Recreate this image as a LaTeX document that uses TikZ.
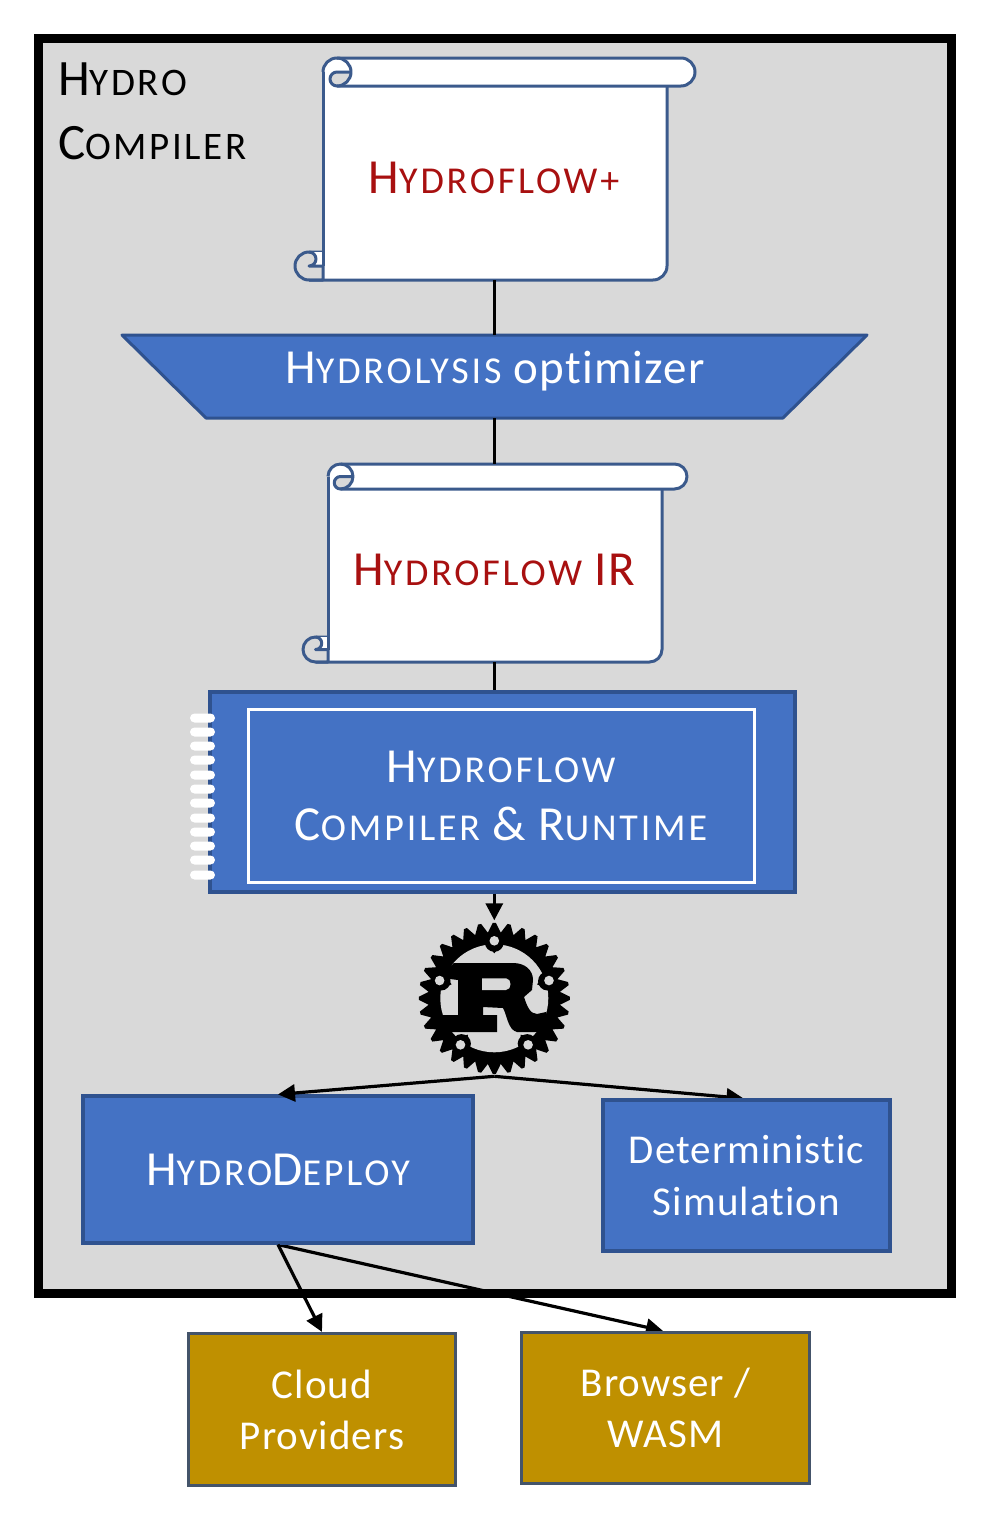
\documentclass[tikz,border=0pt]{standalone}
\usepackage{fontspec}
\setmainfont[LetterSpace=2.6,Ligatures=NoCommon]{Carlito}
\usetikzlibrary{arrows.meta}
\pgfdeclarelayer{framelayer}
\pgfdeclarelayer{under}
\pgfsetlayers{framelayer,under,main}
\definecolor{bluefill}{HTML}{4472C4}
\definecolor{blueline}{HTML}{2F528F}
\definecolor{scrollline}{HTML}{3B5A8C}
\definecolor{goldfill}{HTML}{BF9000}
\definecolor{goldline}{HTML}{44546A}
\definecolor{panel}{HTML}{D9D9D9}
\definecolor{darkred}{HTML}{A81010}
\newcommand\Lc[1]{{\fontsize{49}{58}\selectfont #1}}
\newcommand\Sc[1]{{\fontsize{38}{58}\selectfont\addfontfeatures{LetterSpace=7.5}#1}}
\newcommand\Lk[1]{{\fontsize{51}{64}\selectfont #1}}
\newcommand\Sk[1]{{\fontsize{39}{64}\selectfont\addfontfeatures{LetterSpace=6.5}#1}}
\tikzset{
  bluebox/.style={draw=blueline,fill=bluefill,line width=3.2pt,text=white,align=center,inner sep=0pt,font=\fontsize{41}{52}\selectfont},
  goldbox/.style={draw=goldline,fill=goldfill,line width=3.2pt,text=white,align=center,inner sep=0pt,font=\fontsize{41}{51}\selectfont},
  conn/.style={draw=black,line width=3pt},
  arrowconn/.style={draw=black,line width=3.2pt,-{Triangle[length=17pt,width=17pt]}},
  scrollpen/.style={draw=scrollline,line width=3pt,line join=round},
  anchorbox/.style={inner sep=0pt,outer sep=0pt},
  tick/.style={fill=white,rounded corners=4.5pt}
}
% L R T B r
\newcommand\scrollshape[5]{
  \fill[white] (#1,#3+#5) arc[start angle=180,end angle=270,radius=#5]
     -- (#2+#5,#3) arc[start angle=270,end angle=450,radius=#5] -- (#2,#3+2*#5)
     -- (#2,#4-#5) arc[start angle=0,end angle=90,radius=#5] -- (#1,#4) -- cycle;
  % lower roll
  \fill[panel,scrollpen] (#1-#5,#4-2*#5) arc[start angle=270,end angle=90,radius=#5] -- (#1,#4) -- (#1,#4-2*#5) -- cycle;
  \fill[white] (#1-#5,#4-2*#5) arc[start angle=270,end angle=450,radius=#5/2] -- (#1,#4-#5) -- (#1,#4-2*#5) -- cycle;
  \draw[scrollpen] (#1-#5,#4-2*#5) arc[start angle=270,end angle=450,radius=#5/2] -- (#1,#4-#5);
  % upper roll curl
  \fill[panel] (#1+#5,#3+#5) -- (#1+2*#5,#3+#5) arc[start angle=0,end angle=90,radius=#5]
     arc[start angle=90,end angle=270,radius=#5/2] -- cycle;
  % outline
  \draw[scrollpen] (#1,#3+#5) arc[start angle=180,end angle=270,radius=#5] -- (#2+#5,#3)
     arc[start angle=270,end angle=450,radius=#5] -- (#1+#5,#3+2*#5)
     arc[start angle=90,end angle=270,radius=#5/2] -- (#1+2*#5,#3+#5);
  \draw[scrollpen] (#1+#5,#3) arc[start angle=270,end angle=450,radius=#5];
  \draw[scrollpen] (#2,#3+2*#5) -- (#2,#4-#5) arc[start angle=0,end angle=90,radius=#5] -- (#1-#5,#4);
  \draw[scrollpen] (#1,#3+#5) -- (#1,#4-#5);
}
\begin{document}
\begin{tikzpicture}[x=1pt,y=1pt,yscale=-1]
\useasboundingbox (0,0) rectangle (992,1531);
\begin{pgfonlayer}{framelayer}
  \fill[white] (0,0) rectangle (992,1531);
  \node[anchorbox,draw=black,fill=panel,line width=9pt,minimum width=913pt,minimum height=1255pt] (frame) at (495,666) {};
\end{pgfonlayer}

% Title
\node[anchor=base west,inner sep=0pt,text=black] (titleA) at (58,95) {\Lk{H}\Sk{YDRO}};
\node[anchor=base west,inner sep=0pt,text=black] (titleB) at (58,159) {\Lk{C}\Sk{OMPILER}};

% Scroll one
\scrollshape{323}{667}{58}{280}{14}
\node[anchorbox,minimum width=344pt,minimum height=222pt] (plus) at (494.5,169) {};
\node[anchor=base,inner sep=0pt,text=darkred] (plustext) at (494,193) {\Lc{H}\Sc{YDROFLOW+}};

% Optimizer
\fill[bluefill,draw=blueline,line width=3pt,line join=round] (122,335) -- (867,335) -- (783,418) -- (206,418) -- cycle;
\node[anchorbox,minimum width=745pt,minimum height=83pt] (opt) at (494.5,376.5) {};
\node[anchor=base,inner sep=0pt,text=white] (opttext) at (495,383) {\Lc{H}\Sc{YDROLYSIS}{\fontsize{47}{58}\selectfont\ optimizer}};

% Scroll two
\scrollshape{328}{662}{464}{662}{12.5}
\node[anchorbox,minimum width=334pt,minimum height=198pt] (ir) at (494.5,563) {};
\node[anchor=base,inner sep=0pt,text=darkred] (irtext) at (494,585) {\Lc{H}\Sc{YDROFLOW}\Lc{\ IR}};

% Compiler and runtime
\node[bluebox,minimum width=585pt,minimum height=200pt] (runtime) at (502.5,792) {};
\node[draw=white,line width=3pt,text=white,align=center,inner sep=0pt,minimum width=506pt,minimum height=173pt,font=\fontsize{36}{58}\selectfont] (runinner) at (501,795.5) {\Lc{H}\Sc{YDROFLOW}\\\Lc{C}\Sc{OMPILER}\Lc{\ \&\ }\Lc{R}\Sc{UNTIME}};
\foreach \ty in {718,732,746,760,775,789,803,818,832,846,860,875}
  \fill[tick] (190,\ty-4.5) rectangle (215,\ty+4.5);

% Rust logo
\node[anchorbox,circle,minimum size=156pt] (rust) at (494.3,998.3) {};
\begin{scope}[shift={(494.3,998.3)}]
  \fill[black] (-95.6:66)
    \foreach \a in {-90,-78.75,...,258.75} { -- (\a-5.6:66) -- (\a-1.2:75.5) -- (\a+1.2:75.5) -- (\a+5.6:66) } -- cycle;
  \fill[panel] (0,0) circle[radius=54];
  \foreach \a in {-90,-18,54,126,198} {
    \fill[black] (\a:56) circle[radius=9.5];
    \fill[black] (\a-9:56) -- (\a:45) -- (\a+9:56) -- cycle;
    \fill[panel] (\a:57.5) circle[radius=4.8];
  }
\end{scope}
\fill[black] (454,963) -- (513,963) .. controls (525,963) and (533,970) .. (533,980)
  -- (532,990) -- (524,997) .. controls (527,1006) and (530,1014) .. (537,1014) -- (546,1012)
  -- (549,1025) -- (538,1032) -- (517,1032) .. controls (508,1030) and (507,1015) .. (503,1008) -- (483,1007)
  -- (483,1015) -- (497,1015) -- (497,1032) -- (450,1032) -- (440,1025) -- (440,1015)
  -- (458,1015) -- (458,980) -- (450,979) -- (440,975) -- cycle;
\fill[panel] (482,978.3) -- (506,978.3) .. controls (512,978.3) and (512,990) .. (506,990) -- (482,990) -- cycle;

% Lower boxes
\node[bluebox,minimum width=390pt,minimum height=147pt] (deploy) at (278,1169.5) {\Lc{H}\Sc{YDRO}\Lc{D}\Sc{EPLOY}};
\node[bluebox,minimum width=287pt,minimum height=151pt] (sim) at (746.5,1175.5) {Deterministic\\Simulation};
\node[goldbox,minimum width=267pt,minimum height=152pt] (cloud) at (322,1409.5) {Cloud\\Providers};
\node[goldbox,minimum width=288pt,minimum height=151pt] (wasm) at (665.5,1408) {Browser /\\WASM};

% Connectors
\draw[conn] (plus.south) -- (opt.north);
\draw[conn] (opt.south) -- (ir.north);
\draw[conn] (ir.south) -- (runtime.north -| ir.south);
\draw[arrowconn] (runtime.south -| rust.north) -- (rust.north);
\draw[arrowconn] (rust.south) -- (deploy.north);
\draw[arrowconn] (deploy.south) -- (cloud.north);
\begin{pgfonlayer}{under}
  \draw[arrowconn] (rust.south) -- ([xshift=-3pt]sim.north);
  \draw[arrowconn] (deploy.south) -- ([xshift=-2.5pt]wasm.north);
\end{pgfonlayer}
\end{tikzpicture}
\end{document}
